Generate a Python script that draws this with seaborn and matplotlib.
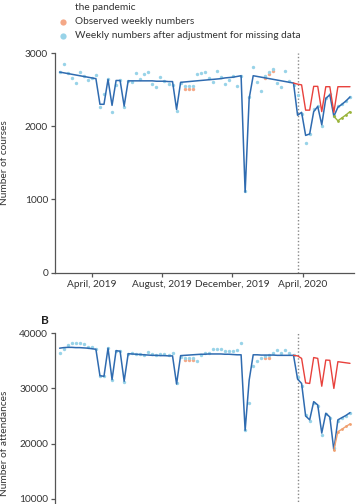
import numpy as np
import pandas as pd
import matplotlib
matplotlib.use("Agg")
import matplotlib.pyplot as plt
from matplotlib.lines import Line2D
import seaborn as sns

# Data, one value per week
weeks = pd.date_range("2019-02-04", periods=73, freq="7D")
lockdown = pd.Timestamp("2020-03-24")

courses_fit = [2740, 2730, 2720, 2710, 2700, 2690, 2680, 2670, 2660, 2650,
               2300, 2300, 2640, 2285, 2625, 2625, 2275, 2620,
               2620, 2620, 2620, 2620, 2620, 2620, 2615, 2615, 2615, 2610, 2610,
               2230,
               2600, 2605, 2610, 2615, 2620, 2625, 2630, 2635, 2640, 2645, 2650, 2660, 2665, 2670, 2680, 2690,
               1100, 2380,
               2690, 2680, 2670, 2660, 2650, 2640, 2630, 2620, 2610, 2600, 2590,
               2150, 2190, 1875, 1895, 2200, 2270, 2020, 2380, 2430, 2135, 2260, 2300, 2345, 2400]

courses_adj = [2735, 2850, 2730, 2665, 2596, 2746, 2680, 2628, 2660, 2695,
               2265, 2445, 2640, 2200, 2564, 2625, 2260, 2620,
               2600, 2730, 2642, 2720, 2740, 2574, 2533, 2669, 2623, 2578, 2564,
               2213,
               2590, 2550, 2550, 2550, 2715, 2730, 2735, 2655, 2610, 2760, 2678, 2580, 2630, 2690, 2545, 2690,
               1110, 2400,
               2815, 2610, 2478, 2690, 2740, 2780, 2590, 2540, 2760, 2620, 2560,
               2430, 2170, 1770, 1900, 2230, 2280, 2000, 2390, 2440, 2140, 2270, 2300, 2350, 2400]

courses_obs = [np.nan] * 73
for i, v in zip([31, 32, 33, 51, 52, 53], [2505, 2505, 2505, 2665, 2714, 2760]):
    courses_obs[i] = v

courses_pred = [2590, 2575, 2565, 2220, 2220, 2545, 2545, 2200, 2540, 2540, 2190, 2540, 2540, 2540, 2540]
courses_late = [2135, 2075, 2115, 2155, 2200]

att_fit = [37300, 37400, 37450, 37450, 37400, 37400, 37350, 37300, 37200, 37100,
           32300, 32200, 37300, 31600, 36850, 36750, 31300, 36300,
           36250, 36200, 36150, 36100, 36050, 36000, 36000, 35950, 35950, 35900, 35900,
           30800,
           35950, 36000, 36050, 36100, 36150, 36200, 36200, 36250, 36250, 36250, 36250, 36200, 36200, 36150, 36100, 36100,
           22400, 31500,
           36100, 36100, 36050, 36050, 36050, 36050, 36000, 36000, 36000, 36000, 36000,
           31700, 30900, 25000, 24300, 27600, 27000, 21900, 25500, 24800, 18800, 24300, 24700, 25100, 25600]

att_adj = [36480, 37100, 37880, 38190, 38190, 38300, 38060, 37500, 37500, 37100,
           32200, 32300, 37300, 31500, 36850, 36700, 31200, 36300,
           36400, 36300, 36250, 36000, 36670, 36300, 36070, 36200, 36200, 36100, 36370,
           30930,
           35760, 35500, 35500, 35500, 35000, 36070, 36370, 36370, 37100, 37100, 37100, 36790, 36790, 36790, 36980, 38190,
           22400, 27300,
           34000, 35000, 35460, 35800, 36100, 36370, 36980, 36500, 36980, 36490, 36100,
           32000, 30500, 25200, 24000, 27300, 26800, 21500, 25300, 24600, 19200, 24000, 24600, 25000, 25500]

att_obs = [np.nan] * 73
for i, v in zip([31, 32, 33, 51, 52], [35100, 35100, 35100, 35500, 35600]):
    att_obs[i] = v

att_pred = [36000, 35900, 35450, 31000, 30900, 35600, 35450, 30400, 35150, 35100, 30000, 34850, 34750, 34650, 34550]
att_late = [18800, 22150, 22600, 23100, 23550]

tick_dates = pd.to_datetime(["2019-04-01", "2019-08-01", "2019-12-01", "2020-04-01"])
tick_labels = ["April, 2019", "August, 2019", "December, 2019", "April, 2020"]

# Colours
c_line = "#2f6bb0"
c_adj = "#98d3e8"
c_obs = "#f4a887"
c_pred = "#e8413c"
c_axis = "#555555"
c_text = "#333333"

sns.set_style("ticks")
plt.rcParams['font.family'] = ['Lato', 'DejaVu Sans']
fs = 7.3

fig = plt.figure(figsize=(3.6, 5.04), dpi=100)
axA = fig.add_axes([0.1528, 0.4589, 0.8306, 0.4359])
axB = fig.add_axes([0.1528, -0.0988, 0.8306, 0.4375])

panels = [
    (axA, courses_fit, courses_adj, courses_obs, courses_pred, courses_late, "#9ab43a",
     3000, [0, 1000, 2000, 3000], "Number of courses", tick_labels),
    (axB, att_fit, att_adj, att_obs, att_pred, att_late, "#f0a070",
     40000, [10000, 20000, 30000, 40000], "Number of attendances", [""] * 4),
]

for ax, fit, adj, obs, pred, late, c_late, ytop, yticks, ylab, xlabs in panels:
    df = pd.DataFrame({"week": weeks, "fit": fit, "adj": adj, "obs": obs})
    sns.scatterplot(data=df, x="week", y="obs", ax=ax, color=c_obs, s=6, linewidth=0)
    sns.scatterplot(data=df, x="week", y="adj", ax=ax, color=c_adj, s=6, linewidth=0)
    sns.lineplot(data=df, x="week", y="fit", ax=ax, color=c_line, lw=1.1)
    sns.lineplot(x=weeks[58:], y=pred, ax=ax, color=c_pred, lw=1.0)
    sns.lineplot(x=weeks[68:], y=late, ax=ax, color=c_late, lw=1.0,
                 marker="o", markersize=2, markeredgewidth=0)
    ax.axvline(lockdown, color="#888888", lw=1.0, ls=(0, (1, 1.5)), zorder=0)

    ax.set_xlim(pd.Timestamp("2019-01-27"), pd.Timestamp("2020-06-29"))
    ax.set_ylim(0, ytop)
    ax.set_yticks(yticks)
    ax.set_yticklabels([str(v) for v in yticks])
    ax.set_xticks(tick_dates)
    ax.set_xticklabels(xlabs)
    ax.set_xlabel("")
    ax.set_ylabel(ylab, fontsize=fs, color=c_text)
    ax.yaxis.set_label_coords(-0.155, 0.5)
    ax.tick_params(axis="both", labelsize=fs, colors=c_axis, labelcolor=c_text,
                   length=3, width=0.9, pad=2)
    for s in ["left", "bottom"]:
        ax.spines[s].set_color(c_axis)
        ax.spines[s].set_linewidth(0.9)
    sns.despine(ax=ax)

# Panel label and partial legend
fig.text(45 / 360, 1 - 320 / 504, "B", fontsize=8.5, fontweight="bold",
         ha="center", va="center", color="#222222")
fig.text(75 / 360, 1 - 7 / 504, "the pandemic", fontsize=fs, color=c_text, va="center")
fig.text(75 / 360, 1 - 22 / 504, "Observed weekly numbers", fontsize=fs, color=c_text, va="center")
fig.text(75 / 360, 1 - 36 / 504, "Weekly numbers after adjustment for missing data",
         fontsize=fs, color=c_text, va="center")
for y, c in [(22, c_obs), (36, c_adj)]:
    fig.add_artist(Line2D([63 / 360], [1 - y / 504], transform=fig.transFigure,
                          marker="o", markersize=4.5, color=c, markeredgewidth=0))

fig.savefig("out.png", dpi=100)
